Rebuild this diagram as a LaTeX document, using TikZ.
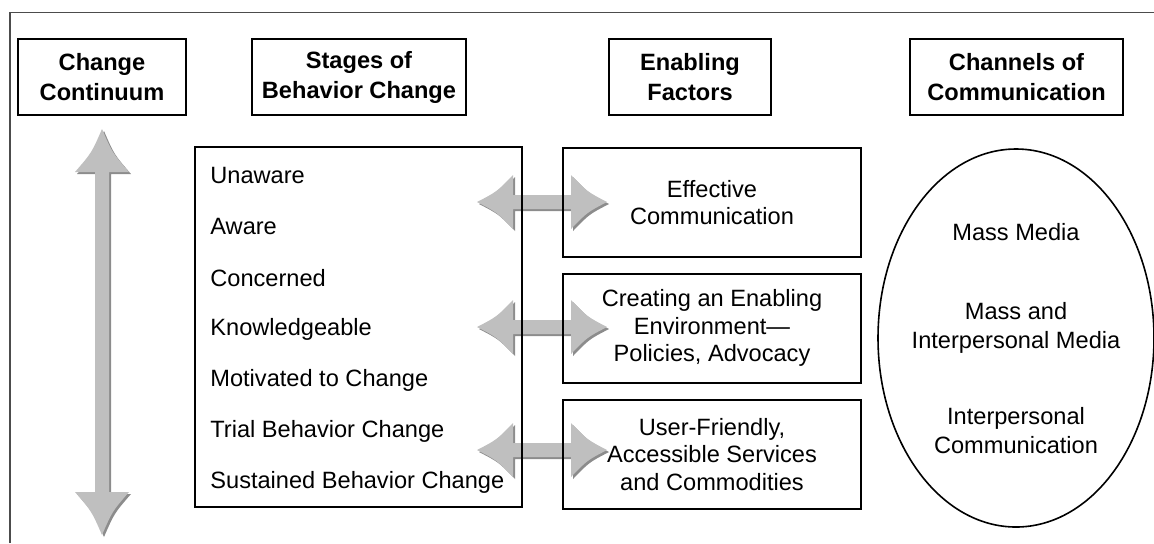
\documentclass[tikz,border=0pt]{standalone}
\usepackage{fontspec}
\setmainfont{Liberation Sans}
\usepackage{tikz}
\usetikzlibrary{shapes.geometric}

\tikzset{
  frameline/.style={draw=black!70, line width=0.8pt},
  headbox/.style={draw, line width=1pt, minimum height=38pt, align=center,
    font=\fontsize{11.8}{15}\selectfont\bfseries},
  factorbox/.style={draw, line width=1pt, minimum width=149pt, minimum height=54.5pt,
    align=center, font=\fontsize{11.8}{13.6}\selectfont},
  stagetext/.style={anchor=west, inner sep=0pt, font=\fontsize{11.8}{14}\selectfont},
  chantext/.style={align=center, inner sep=0pt, font=\fontsize{11.8}{14.5}\selectfont},
  arrowbody/.style={fill=black!25},
  arrowshade/.style={fill=black!45},
  pics/fatarrow/.style n args={4}{code={
    \pgfmathsetmacro\tipx{#1/2}
    \pgfmathsetmacro\barbx{#1/2-#2}
    \def\fatpath{(-\tipx,0) .. controls (-\tipx+0.55*#2,-0.38*#3) .. (-\barbx,-#3)
      -- (-\barbx,-7) -- (\barbx,-7) -- (\barbx,-#3)
      .. controls (\tipx-0.55*#2,-0.38*#3) .. (\tipx,0)
      .. controls (\tipx-0.55*#2,0.38*#3) .. (\barbx,#3)
      -- (\barbx,7) -- (-\barbx,7) -- (-\barbx,#3)
      .. controls (-\tipx+0.55*#2,0.38*#3) .. (-\tipx,0) -- cycle}
    \fill[arrowshade, shift={#4}] \fatpath;
    \fill[arrowbody] \fatpath;
  }}
}

\begin{document}
\begin{tikzpicture}[x=0.5pt,y=-0.5pt]
    \useasboundingbox (0,0) rectangle (1154,543);
    \draw[frameline] (10,543) -- (10,12.5) -- (1154,12.5);

    \coordinate (axis) at (102,332);
    \coordinate (effrow) at (542,202);
    \coordinate (envrow) at (542,327);
    \coordinate (usrrow) at (542,450);

    \pic[rotate=-90] at (axis) {fatarrow={406}{43}{27}{(2,-2)}};
    \foreach \r in {effrow,envrow,usrrow}
        \pic at (\r) {fatarrow={130}{36}{27}{(2,2)}};

    \node[headbox, minimum width=84pt] (contin) at (102,77) {Change\\Continuum};
    \node[headbox, minimum width=107pt] (stages) at (359,77) {Stages of\\Behavior Change};
    \node[headbox, minimum width=81pt] (enable) at (690,77) {Enabling\\Factors};
    \node[headbox, minimum width=106.5pt] (channel) at (1016.5,77) {Channels of\\Communication};

    \node[draw, line width=1pt, minimum width=163.5pt, minimum height=180pt] (stagebox) at (358.5,327) {};
    \foreach \s [count=\i from 0] in {Unaware,Aware,Concerned,Knowledgeable,Motivated to Change,Trial Behavior Change,Sustained Behavior Change}
        \node[stagetext] (st\i) at (210,175+51.3*\i) {\s};

    \node[factorbox] (effect) at (712,202.5) {Effective\\Communication};
    \node[factorbox] (enviro) at (712,328) {Creating an Enabling\\Environment---\\Policies, Advocacy};
    \node[factorbox] (userf) at (712,454.5) {User-Friendly,\\Accessible Services\\and Commodities};

    \node[draw, ellipse, line width=0.8pt, minimum width=138pt, minimum height=189pt] (media) at (1016,338) {};
    \node[chantext] (mass) at (1016,232) {Mass Media};
    \node[chantext] (mixed) at (1016,328) {Mass and\\Interpersonal Media};
    \node[chantext] (inter) at (1016,431) {Interpersonal\\Communication};
\end{tikzpicture}
\end{document}
